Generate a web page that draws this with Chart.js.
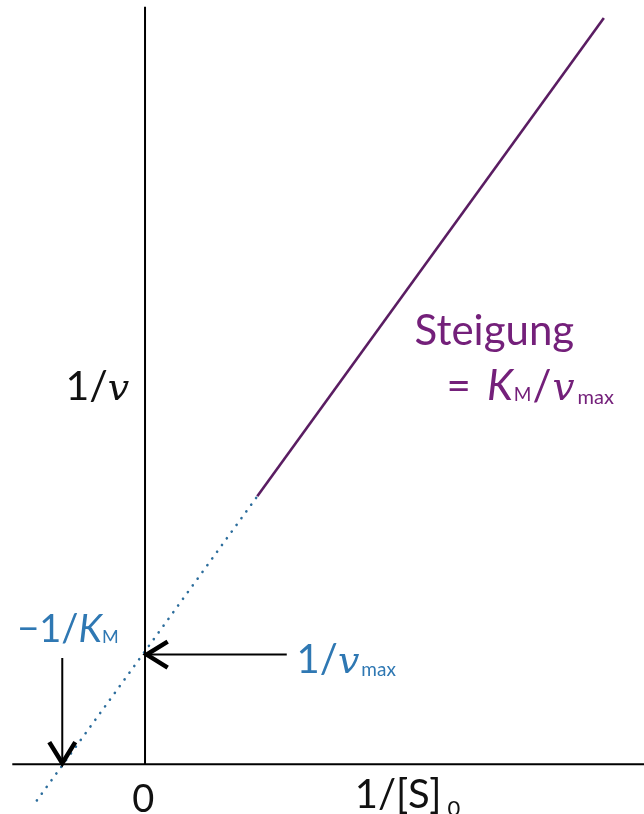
<!DOCTYPE html>
<html>
<head>
<meta charset="utf-8">
<script src="https://cdn.jsdelivr.net/npm/chart.js@4/dist/chart.umd.min.js"></script>
<style>
  html, body { margin: 0; padding: 0; background: #ffffff; }
  #wrap { position: relative; width: 644px; height: 814px; }
</style>
</head>
<body>
<div id="wrap"><canvas id="c"></canvas></div>
<script>
// ---- data (Lineweaver–Burk plot, units: 1/v_max = 1, 1/K_M = 1) ----
const xRange = [-1.77, 6.09];
const yRange = [-0.44, 6.76];
const xAxisX = [-1.62, 6.09];
const xAxisY = [0, 0];
const yAxisX = [0, 0];
const yAxisY = [0, 6.70];
const solidX = [1.37, 5.60];
const solidY = [2.37, 6.60];
const dottedX = [-1.32, 1.37];
const dottedY = [-0.32, 2.37];
const arrowHX = [1.73, 0.02];
const arrowHY = [0.97, 0.97];
const arrowVX = [-1.01, -1.01];
const arrowVY = [0.94, 0.01];

// label anchors in data units (left, baseline)
const labelPos = {
  yTitle:   [-0.97, 3.22],
  steig:    [3.29, 3.71],
  steigEq:  [3.68, 3.22],
  negKm:    [-1.56, 1.08],
  invVmax:  [1.85, 0.81],
  zero:     [-0.02, -0.42],
  xTitle:   [2.56, -0.39]
};

const pts = (xs, ys) => xs.map((x, i) => ({ x: x, y: ys[i] }));

const PURPLE_TXT = '#74207a';
const PURPLE_LINE = '#5a1d62';
const BLUE_TXT = '#2f78b3';
const BLUE_DOT = '#2c6d9c';
const SANS = 'Lato, "Open Sans", sans-serif';
const VFONT = '"DejaVu Serif", serif';

function runs(ctx, x, y, list) {
  let cx = x;
  for (const r of list) {
    ctx.font = r.font;
    ctx.fillStyle = r.color;
    ctx.fillText(r.text, cx, y + (r.dy || 0));
    cx += ctx.measureText(r.text).width + (r.gap || 0);
  }
}

const decor = {
  id: 'decor',
  afterDatasetsDraw(chart) {
    const ctx = chart.ctx;
    const xs = chart.scales.x, ys = chart.scales.y;
    const P = (k) => [xs.getPixelForValue(labelPos[k][0]), ys.getPixelForValue(labelPos[k][1])];
    ctx.save();
    // arrowheads
    ctx.strokeStyle = '#000';
    ctx.lineWidth = 4.5;
    ctx.lineCap = 'butt';
    ctx.lineJoin = 'miter';
    const head = (tx, ty, dx, dy) => {
      const L = 21, W = 13;
      const bx = tx - dx * L, by = ty - dy * L;
      ctx.beginPath();
      ctx.moveTo(bx - dy * W, by + dx * W);
      ctx.lineTo(tx, ty);
      ctx.lineTo(bx + dy * W, by - dx * W);
      ctx.stroke();
    };
    head(xs.getPixelForValue(arrowHX[1]), ys.getPixelForValue(arrowHY[1]), -1, 0);
    head(xs.getPixelForValue(arrowVX[1]), ys.getPixelForValue(arrowVY[1]), 0, 1);

    ctx.textAlign = 'left';
    ctx.textBaseline = 'alphabetic';
    let p;
    p = P('yTitle');
    runs(ctx, p[0], p[1], [
      { text: '1/', font: '41px ' + SANS, color: '#111', gap: 0 },
      { text: 'v', font: 'italic 38px ' + VFONT, color: '#111' }
    ]);
    p = P('steig');
    runs(ctx, p[0], p[1], [{ text: 'Steigung', font: '42px ' + SANS, color: PURPLE_TXT }]);
    p = P('steigEq');
    runs(ctx, p[0], p[1], [
      { text: '=', font: '42px ' + SANS, color: PURPLE_TXT, gap: 16 },
      { text: 'K', font: 'italic 42px ' + SANS, color: PURPLE_TXT, gap: 1 },
      { text: 'M', font: '19px ' + SANS, color: PURPLE_TXT, dy: 1, gap: 1 },
      { text: '/', font: '42px ' + SANS, color: PURPLE_TXT, gap: 1 },
      { text: 'v', font: 'italic 39px ' + VFONT, color: PURPLE_TXT, gap: 3 },
      { text: 'max', font: '20px ' + SANS, color: PURPLE_TXT, dy: 4 }
    ]);
    p = P('negKm');
    runs(ctx, p[0], p[1], [
      { text: '\u22121/', font: '38px ' + SANS, color: BLUE_TXT },
      { text: 'K', font: 'italic 38px ' + SANS, color: BLUE_TXT },
      { text: 'M', font: '18px ' + SANS, color: BLUE_TXT, dy: 1 }
    ]);
    p = P('invVmax');
    runs(ctx, p[0], p[1], [
      { text: '1/', font: '40px ' + SANS, color: BLUE_TXT, gap: 0 },
      { text: 'v', font: 'italic 38px ' + VFONT, color: BLUE_TXT, gap: 2 },
      { text: 'max', font: '19px ' + SANS, color: BLUE_TXT, dy: 3 }
    ]);
    p = P('zero');
    ctx.textAlign = 'center';
    runs(ctx, p[0], p[1], [{ text: '0', font: '38px ' + SANS, color: '#111' }]);
    ctx.textAlign = 'left';
    p = P('xTitle');
    runs(ctx, p[0], p[1], [
      { text: '1/[S]', font: '40px ' + SANS, color: '#111', gap: 6 },
      { text: '0', font: '22px ' + SANS, color: '#111', dy: 8 }
    ]);
    ctx.restore();
  }
};

new Chart(document.getElementById('c'), {
  type: 'scatter',
  data: {
    datasets: [
      { data: pts(xAxisX, xAxisY), showLine: true, borderColor: '#000', borderWidth: 2, pointRadius: 0 },
      { data: pts(yAxisX, yAxisY), showLine: true, borderColor: '#000', borderWidth: 2, pointRadius: 0 },
      { data: pts(dottedX, dottedY), showLine: true, borderColor: BLUE_DOT, borderWidth: 2.6,
        borderDash: [0.1, 8.2], borderCapStyle: 'round', pointRadius: 0 },
      { data: pts(solidX, solidY), showLine: true, borderColor: PURPLE_LINE, borderWidth: 2.6, pointRadius: 0 },
      { data: pts(arrowHX, arrowHY), showLine: true, borderColor: '#000', borderWidth: 2, pointRadius: 0 },
      { data: pts(arrowVX, arrowVY), showLine: true, borderColor: '#000', borderWidth: 2, pointRadius: 0 }
    ]
  },
  options: {
    responsive: true,
    maintainAspectRatio: false,
    animation: false,
    layout: { padding: 0 },
    plugins: { legend: { display: false }, tooltip: { enabled: false } },
    elements: { line: { tension: 0 } },
    scales: {
      x: { type: 'linear', min: xRange[0], max: xRange[1], display: false },
      y: { type: 'linear', min: yRange[0], max: yRange[1], display: false }
    }
  },
  plugins: [decor]
});
</script>
</body>
</html>
